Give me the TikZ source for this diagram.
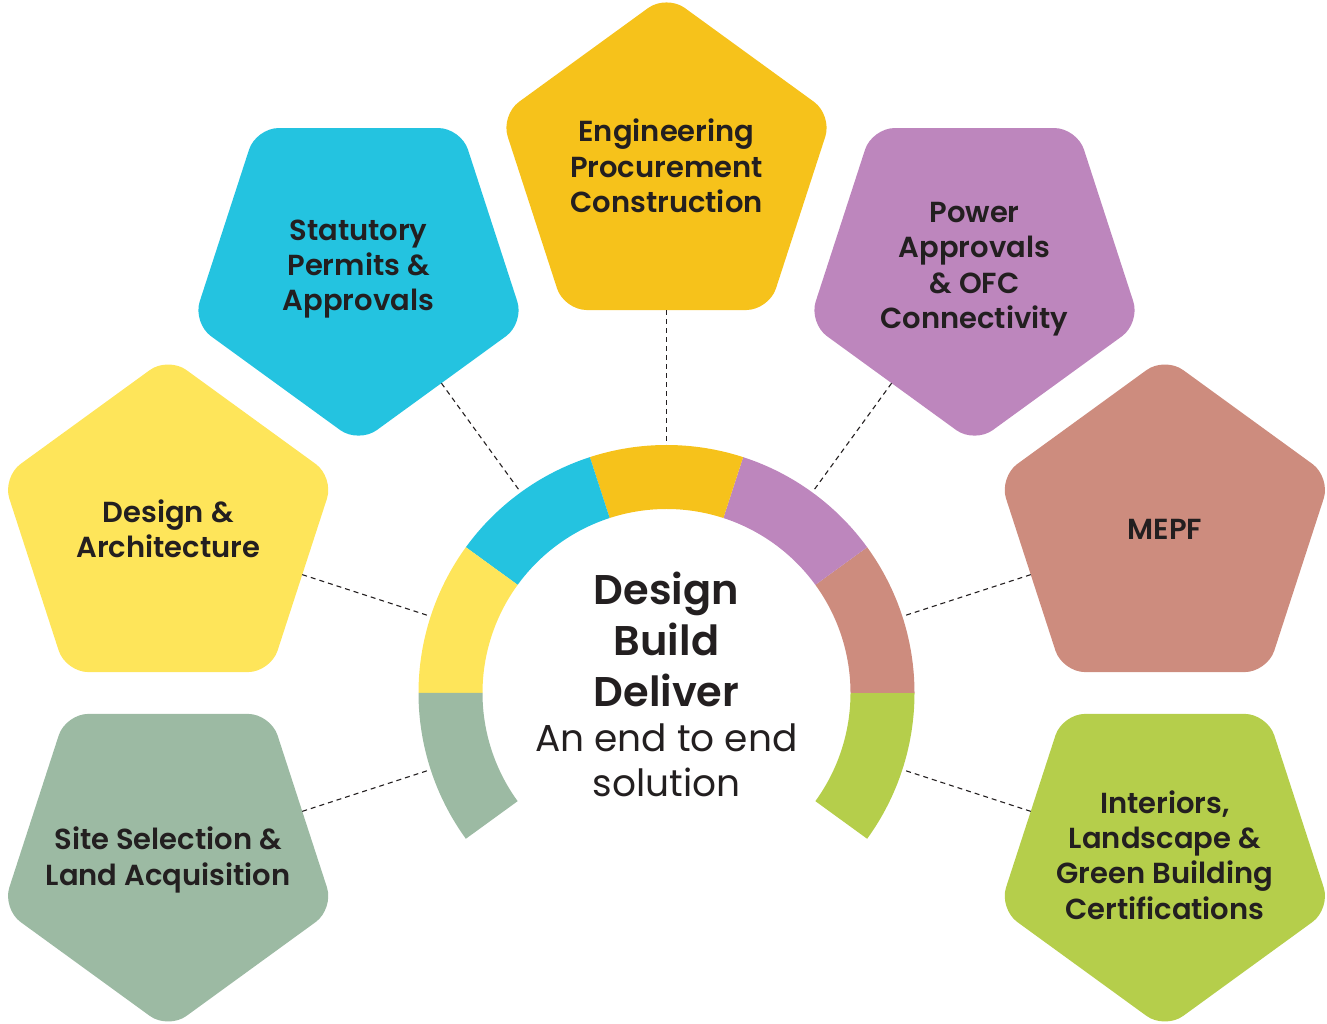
\documentclass[tikz,border=0pt]{standalone}
\usepackage{fontspec}
\setmainfont{Poppins}[BoldFont={Poppins SemiBold}]
\usetikzlibrary{shapes.geometric}
\definecolor{cOrange}{HTML}{F6C21B}
\definecolor{cBlue}{HTML}{24C3E0}
\definecolor{cPurple}{HTML}{BD86BD}
\definecolor{cYellow}{HTML}{FEE55A}
\definecolor{cSalmon}{HTML}{CD8C7E}
\definecolor{cSage}{HTML}{9CBAA3}
\definecolor{cLime}{HTML}{B5CE4B}
\definecolor{cText}{HTML}{231F20}
\begin{document}
\begin{tikzpicture}[x=1pt,y=1pt,
  pent/.style={regular polygon, regular polygon sides=5, minimum size=348.6pt,
    inner sep=0pt, outer sep=0pt, rounded corners=22.5pt},
  pentup/.style={pent, shape border rotate=0},
  pentdown/.style={pent, shape border rotate=180},
  plabel/.style={align=center, text=cText, inner sep=0pt,
    font=\fontsize{29}{35.3}\selectfont\bfseries},
  conn/.style={draw=cText, line width=1.1pt, dash pattern=on 5pt off 4pt},
  centertext/.style={align=center, text=cText, inner sep=0pt}]
\useasboundingbox (0,0) rectangle (1327,1023);
\coordinate (C) at (666.5,330);
% ring
\foreach \a/\col [evaluate=\a as \b using \a+36] in {-36/cLime,0/cSalmon,36/cPurple,72/cOrange,108/cBlue,144/cYellow,180/cSage}{
  \fill[\col] ([shift={(\a:248)}]C) arc[start angle=\a, end angle=\b, radius=248]
    -- ([shift={(\b:184)}]C) arc[start angle=\b, end angle=\a, radius=184] -- cycle;
}
% ring anchor coordinates
\coordinate (rEPC) at ([shift={(90:248)}]C);
\coordinate (rSPA) at ([shift={(126:248)}]C);
\coordinate (rDA)  at ([shift={(162:248)}]C);
\coordinate (rSS)  at ([shift={(198:248)}]C);
\coordinate (rPOW) at ([shift={(54:248)}]C);
\coordinate (rMEP) at ([shift={(18:248)}]C);
\coordinate (rINT) at ([shift={(-18:248)}]C);
% pentagons
\node[pentup, fill=cOrange] (pEPC) at ([shift={(90:524)}]C) {};
\node[pentdown, fill=cBlue] (pSPA) at ([shift={(126:524)}]C) {};
\node[pentup, fill=cYellow] (pDA) at ([shift={(162:524)}]C) {};
\node[pentdown, fill=cSage] (pSS) at ([shift={(198:524)}]C) {};
\node[pentdown, fill=cPurple] (pPOW) at ([shift={(54:524)}]C) {};
\node[pentup, fill=cSalmon] (pMEP) at ([shift={(18:524)}]C) {};
\node[pentdown, fill=cLime] (pINT) at ([shift={(-18:524)}]C) {};
% labels
\node[plabel] (tEPC) at ([yshift=3pt]pEPC.center) {Engineering\\Procurement\\Construction};
\node[plabel] (tSPA) at (pSPA.center) {Statutory\\Permits \&\\Approvals};
\node[plabel] (tDA) at ([yshift=2pt]pDA.center) {Design \&\\Architecture};
\node[plabel] (tSS) at ([yshift=-5pt]pSS.center) {Site Selection \&\\Land Acquisition};
\node[plabel] (tPOW) at (pPOW.center) {Power\\Approvals\\\& OFC\\Connectivity};
\node[plabel] (tMEP) at ([yshift=2pt]pMEP.center) {MEPF};
\node[plabel] (tINT) at (pINT.center) {Interiors,\\Landscape \&\\Green Building\\Certifications};
% connectors
\draw[conn] (pEPC) -- (rEPC);
\draw[conn] (pSPA) -- (rSPA);
\draw[conn] (pDA) -- (rDA);
\draw[conn] (pSS) -- (rSS);
\draw[conn] (pPOW) -- (rPOW);
\draw[conn] (pMEP) -- (rMEP);
\draw[conn] (pINT) -- (rINT);
% centre text
\node[centertext, font=\fontsize{41.5}{51}\selectfont\bfseries, anchor=base] (tDBD) at (666.5,316) {Design\\Build\\Deliver};
\node[centertext, font=\fontsize{37.5}{44}\selectfont, anchor=base] (tSub) at (666.5,227) {An end to end\\solution};
\end{tikzpicture}
\end{document}
